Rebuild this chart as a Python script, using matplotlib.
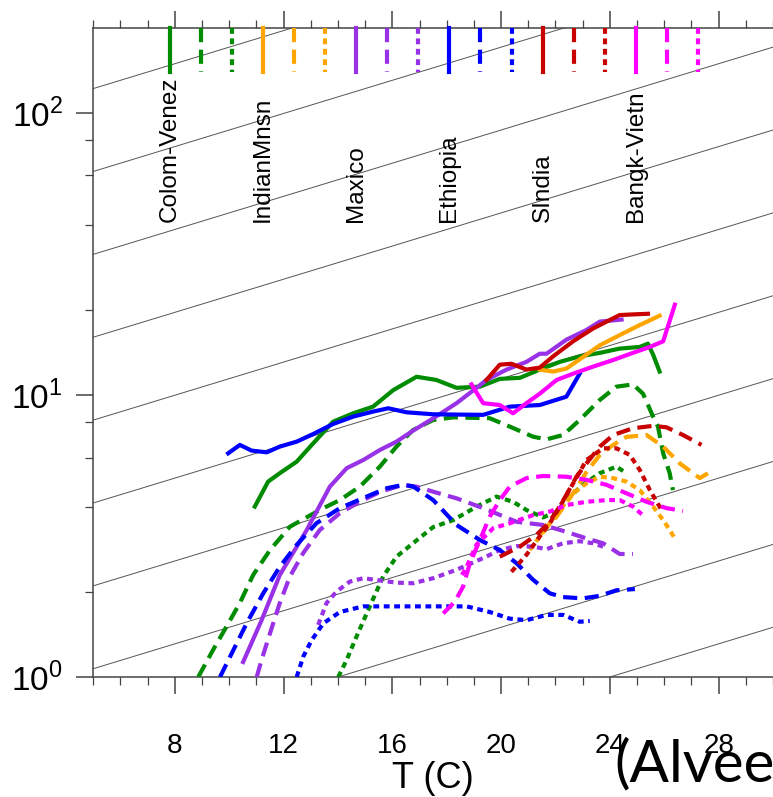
import numpy as np
import matplotlib
matplotlib.use("Agg")
import matplotlib.pyplot as plt

plt.rcParams['font.family'] = ['Liberation Sans', 'DejaVu Sans']
plt.rcParams['mathtext.fontset'] = 'custom'
plt.rcParams['mathtext.rm'] = 'Liberation Sans'

# regions / colours (legend order)
regions = ["Colom-Venez", "IndianMnsn", "Maxico", "Ethiopia", "SIndia", "Bangk-Vietn"]
colors = ["#008c00", "#ffa500", "#9932e6", "#0000ff", "#c80000", "#ff00ff"]

# --- Colom-Venez (green)
cv_solid_t = [10.94, 11.43, 11.86, 12.48, 13.09, 13.82, 14.56, 15.29, 16.03, 16.89, 17.62, 18.36, 19.22,
              19.95, 20.69, 21.42, 22.16, 22.89, 23.63, 24.36, 25.10, 25.40, 25.59, 25.83]
cv_solid_p = [4.02, 4.93, 5.28, 5.80, 6.74, 8.04, 8.61, 9.09, 10.4, 11.6, 11.3, 10.6, 10.7,
              11.4, 11.5, 12.3, 13.1, 13.7, 14.1, 14.6, 14.8, 15.2, 13.9, 12.1]
cv_dash_t = [8.86, 9.41, 9.90, 10.39, 10.88, 11.50, 12.23, 13.33, 14.07, 14.80, 15.54, 16.15, 16.76, 17.50,
             18.24, 19.58, 20.32, 21.18, 21.67, 22.28, 22.89, 23.63, 24.24, 24.85, 25.22, 25.59, 25.77,
             25.96, 26.20, 26.32]
cv_dash_p = [1.00, 1.25, 1.51, 1.83, 2.30, 2.82, 3.41, 3.91, 4.24, 4.73, 5.57, 6.56, 7.51, 8.15,
             8.33, 8.27, 7.72, 7.11, 6.96, 7.21, 8.15, 9.60, 10.7, 10.9, 10.1, 8.38, 7.72,
             6.21, 5.28, 4.60]
cv_dot_t = [14.01, 14.32, 14.68, 15.17, 15.66, 16.15, 16.76, 17.50, 18.24, 19.10, 19.83, 20.44, 20.93,
            21.54, 22.04, 22.40, 23.00, 23.63, 24.24, 24.61]
cv_dot_p = [1.00, 1.15, 1.39, 1.78, 2.27, 2.67, 2.98, 3.40, 3.60, 4.02, 4.36, 4.18, 3.91,
            3.68, 3.85, 4.24, 4.80, 5.28, 5.57, 5.28]

# --- IndianMnsn (orange)
im_solid_t = [21.42, 21.91, 22.40, 23.14, 23.63, 24.36, 25.10, 25.83]
im_solid_p = [12.3, 12.1, 12.4, 13.9, 15.0, 16.3, 17.7, 19.1]
im_dash_t = [21.42, 22.04, 22.65, 23.14, 23.63, 24.12, 24.61, 25.35, 25.96, 26.57, 27.31, 27.80]
im_dash_p = [3.19, 3.70, 4.48, 5.33, 6.13, 6.65, 7.10, 7.21, 6.56, 5.72, 5.07, 5.42]
im_dot_t = [21.05, 21.67, 22.16, 22.65, 23.14, 23.63, 24.12, 24.61, 25.10, 25.59, 25.96, 26.20, 26.39]
im_dot_p = [2.82, 3.38, 3.91, 4.48, 4.86, 5.13, 5.07, 4.93, 4.60, 4.02, 3.60, 3.32, 3.10]

# --- Maxico (purple)
mx_solid_t = [10.51, 11.19, 11.86, 12.85, 13.70, 14.32, 14.93, 15.54, 16.15, 16.76, 17.50, 18.36, 19.10,
              19.46, 20.20, 20.93, 21.42, 21.67, 22.40, 23.14, 23.63, 24.43]
mx_solid_p = [1.13, 1.59, 2.30, 3.32, 4.73, 5.50, 5.88, 6.38, 6.83, 7.47, 8.26, 9.35, 10.6,
              11.3, 12.3, 13.1, 14.0, 14.0, 15.7, 17.0, 18.2, 18.5]
mx_dash_t = [11.01, 11.19, 11.50, 11.86, 12.23, 12.72, 13.33, 14.07, 14.80, 15.54, 16.39, 16.89, 17.50,
             18.36, 19.34, 20.57, 21.54, 22.40, 23.14, 23.75, 24.36, 24.85]
mx_dash_p = [1.00, 1.15, 1.43, 1.83, 2.27, 2.75, 3.32, 3.81, 4.18, 4.53, 4.80, 4.73, 4.54,
             4.30, 3.97, 3.55, 3.46, 3.27, 3.10, 2.98, 2.73, 2.73]
mx_dot_t = [13.27, 13.58, 13.95, 14.44, 14.93, 15.54, 16.15, 16.76, 17.50, 18.36, 19.34, 19.95, 20.57,
            21.18, 21.67, 22.28, 22.89, 23.38, 23.75]
mx_dot_p = [1.53, 1.83, 2.01, 2.18, 2.24, 2.20, 2.16, 2.15, 2.24, 2.40, 2.64, 2.82, 2.91,
            2.90, 2.84, 2.98, 3.03, 2.98, 2.90]

# --- Ethiopia (blue)
et_solid_t = [9.96, 10.39, 10.82, 11.38, 11.86, 12.48, 13.09, 13.82, 14.56, 15.29, 15.85, 16.52, 17.50,
              19.34, 20.32, 21.42, 22.40, 22.89]
et_solid_p = [6.21, 6.65, 6.35, 6.26, 6.56, 6.83, 7.27, 7.89, 8.38, 8.73, 8.97, 8.68, 8.54,
              8.50, 9.09, 9.21, 9.86, 11.9]
et_dash_t = [9.66, 10.03, 10.64, 11.25, 11.86, 12.48, 13.21, 14.07, 15.05, 15.79, 16.40, 16.76, 17.50,
             18.36, 19.22, 19.95, 20.57, 21.18, 21.79, 22.28, 23.01, 23.63, 24.24, 24.92]
et_dash_p = [1.00, 1.18, 1.55, 1.98, 2.46, 2.94, 3.51, 3.97, 4.36, 4.67, 4.80, 4.74, 4.24,
             3.46, 3.06, 2.82, 2.53, 2.21, 1.98, 1.92, 1.90, 1.94, 2.03, 2.05]
et_dot_t = [12.48, 12.72, 13.03, 13.46, 14.07, 14.93, 16.15, 17.38, 18.73, 19.58, 20.32, 20.93, 21.67,
            22.28, 22.89, 23.26]
et_dot_p = [1.00, 1.18, 1.35, 1.55, 1.70, 1.78, 1.78, 1.78, 1.78, 1.70, 1.61, 1.59, 1.66,
            1.66, 1.57, 1.58]

# --- SIndia (red)
si_solid_t = [19.46, 19.95, 20.38, 20.93, 21.42, 21.91, 22.65, 23.38, 23.88, 24.36, 24.85, 25.40]
si_solid_p = [11.3, 12.8, 12.9, 12.3, 12.5, 13.7, 15.5, 17.2, 18.2, 19.2, 19.3, 19.4]
si_dash_t = [19.95, 20.69, 21.30, 21.67, 22.04, 22.40, 22.77, 23.14, 23.63, 24.12, 24.85, 25.59, 26.08,
             26.69, 27.37]
si_dash_p = [2.67, 2.90, 3.19, 3.46, 3.86, 4.42, 5.13, 5.72, 6.56, 7.21, 7.62, 7.77, 7.68,
             7.21, 6.65]
si_dot_t = [20.38, 20.93, 21.42, 21.79, 22.16, 22.65, 23.14, 23.75, 24.24, 24.73, 25.10, 25.47, 25.90]
si_dot_p = [2.36, 2.71, 3.15, 3.51, 4.02, 4.86, 5.88, 6.47, 6.47, 6.13, 5.42, 4.60, 3.91]

# --- Bangk-Vietn (magenta)
bv_solid_t = [18.91, 19.34, 19.95, 20.44, 20.93, 21.42, 22.04, 22.65, 23.38, 24.12, 24.85, 25.47, 25.96,
              26.39]
bv_solid_p = [10.9, 9.35, 9.21, 8.61, 9.35, 10.1, 11.3, 11.9, 12.6, 13.3, 14.1, 14.8, 15.5, 20.9]
bv_dash_t = [17.87, 18.30, 18.60, 18.85, 19.22, 19.58, 19.95, 20.32, 20.93, 21.54, 22.40, 23.14, 23.88,
             24.61, 25.35, 26.08, 26.69]
bv_dash_p = [1.68, 1.85, 2.09, 2.53, 3.06, 3.70, 4.24, 4.73, 5.07, 5.16, 5.13, 5.00, 4.80,
             4.48, 4.18, 3.97, 3.88]
bv_dot_t = [18.56, 18.73, 19.10, 19.71, 20.32, 21.18, 21.79, 22.40, 23.14, 23.88, 24.36, 24.85, 25.28]
bv_dot_p = [2.30, 2.46, 2.95, 3.37, 3.51, 3.75, 3.86, 4.07, 4.18, 4.24, 4.24, 4.02, 3.70]

series = [
    [(cv_solid_t, cv_solid_p), (cv_dash_t, cv_dash_p), (cv_dot_t, cv_dot_p)],
    [(im_solid_t, im_solid_p), (im_dash_t, im_dash_p), (im_dot_t, im_dot_p)],
    [(mx_solid_t, mx_solid_p), (mx_dash_t, mx_dash_p), (mx_dot_t, mx_dot_p)],
    [(et_solid_t, et_solid_p), (et_dash_t, et_dash_p), (et_dot_t, et_dot_p)],
    [(si_solid_t, si_solid_p), (si_dash_t, si_dash_p), (si_dot_t, si_dot_p)],
    [(bv_solid_t, bv_solid_p), (bv_dash_t, bv_dash_p), (bv_dot_t, bv_dot_p)],
]

# Clausius-Clapeyron reference lines, 7%/K, y = 1.07**(T - T0)
cc_rate = 1.07
cc_t0 = [24, 14, 4, -6, -16, -26, -36, -46, -56, -66]

xlim = (5, 30)
ylim = (1, 200)

styles = ['-', (0, (3.4, 1.8)), (0, (1.4, 1.1))]
lw = 3.0

fig = plt.figure(figsize=(7.73, 7.97), dpi=100)
ax = fig.add_axes([93.3 / 773, 120 / 797, 679.7 / 773, 649 / 797])

tt = np.array(xlim, dtype=float)
for t0 in cc_t0:
    ax.plot(tt, cc_rate ** (tt - t0), color='#555555', lw=0.7, zorder=1)

for col, group in zip(colors, series):
    for ls, (t, p) in zip(styles, group):
        ax.plot(t, p, color=col, lw=lw, ls=ls, zorder=3)

ax.set_yscale('log')
ax.set_xlim(*xlim)
ax.set_ylim(*ylim)

# legend marks: short vertical lines hanging from the top frame
x0, dx = 0.1128, 0.04568
for i, col in enumerate(colors):
    for j, ls in enumerate(styles):
        xx = x0 + (3 * i + j) * dx
        ax.plot([xx, xx], [1.0, 0.932], transform=ax.transAxes, color=col,
                lw=lw, ls=ls, clip_on=False, zorder=4)
    ax.text(x0 + 3 * i * dx, 0.701, regions[i], transform=ax.transAxes, rotation=90,
            ha='center', va='bottom', fontsize=17.5)

ax.set_xticks([8, 12, 16, 20, 24, 28])
ax.set_xticks(np.arange(5, 31), minor=True)
ax.set_yticks([1, 10, 100])
ax.set_yticklabels([r'$10^0$', r'$10^1$', r'$10^2$'])
ax.set_yticks([2, 4, 6, 8, 20, 40, 60, 80], minor=True)
ax.yaxis.set_minor_formatter(matplotlib.ticker.NullFormatter())

ax.tick_params(which='both', direction='out', color='#444444', top=True, right=False)
ax.tick_params(which='major', length=12, width=1.1)
ax.tick_params(which='minor', length=6, width=0.9)
ax.tick_params(axis='x', which='major', labelsize=20, pad=28)
ax.tick_params(axis='y', which='major', labelsize=24, pad=10)

for side in ['left', 'bottom', 'top']:
    ax.spines[side].set_color('#444444')
    ax.spines[side].set_linewidth(1.1)
ax.spines['right'].set_visible(False)

ax.set_xlabel('T (C)', fontsize=26, labelpad=2)

fig.text(614 / 773, 1 - 781 / 797, '(Alvee', fontsize=42, family=['Lato', 'DejaVu Sans'],
         ha='left', va='baseline')

fig.savefig('out.png', dpi=100)
